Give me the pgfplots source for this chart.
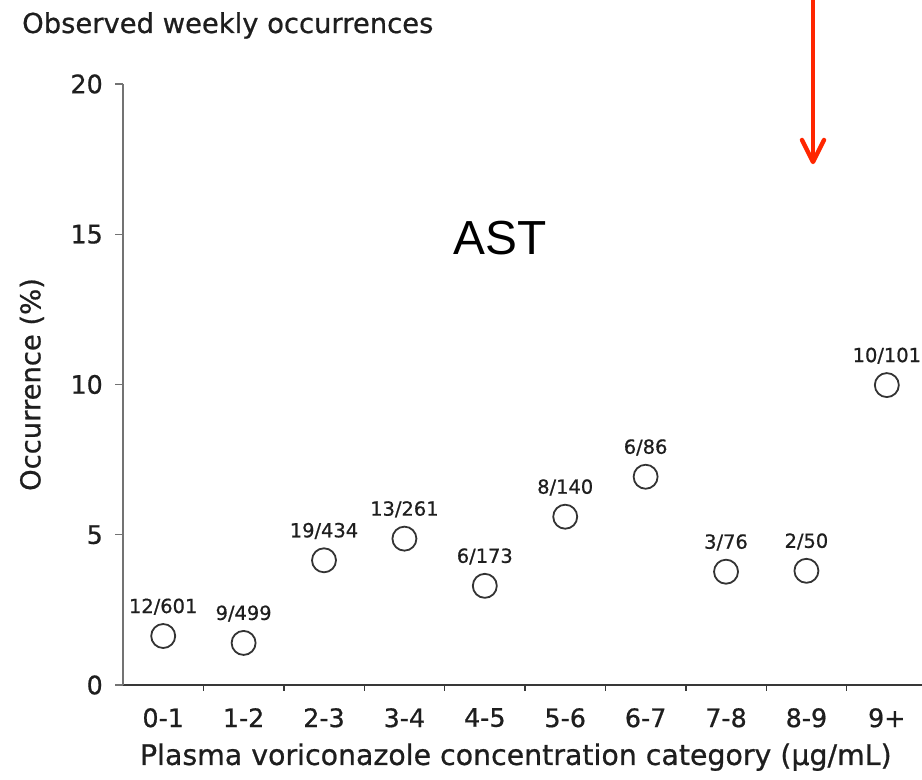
\documentclass[border=0pt]{standalone}
\usepackage{pgfplots}
\pgfplotsset{compat=1.18}
\usepackage{pgfplotstable}
\usepackage{fontspec}
\setmainfont[FakeBold=0.7]{DejaVu Sans}
\newfontfamily\arialfont{Liberation Sans}

\definecolor{ink}{HTML}{1E1E1E}
\definecolor{markgray}{HTML}{333333}
\definecolor{arrowred}{HTML}{FF2600}

% weekly AST occurrence (%) per plasma concentration category
\pgfplotstableread{
x  y     label
0  1.63  12/601
1  1.40  9/499
2  4.15  19/434
3  4.87  13/261
4  3.30  6/173
5  5.60  8/140
6  6.93  6/86
7  3.77  3/76
8  3.80  2/50
9  9.98  10/101
}\astdata

\begin{document}
\begin{tikzpicture}[x=1bp,y=1bp]
\useasboundingbox (0,0) rectangle (922,780);
\begin{axis}[
  at={(123bp,95bp)}, anchor=south west,
  scale only axis,
  width=800bp, height=601bp,
  xmin=-0.5, xmax=9.45,
  ymin=0, ymax=20,
  clip=false,
  axis x line=bottom, axis y line=left,
  x axis line style={-, draw=black!78, line width=1.6bp},
  y axis line style={-, draw=black!55, line width=1.2bp},
  tick align=outside,
  xtick={0,...,9},
  xticklabels={0-1,1-2,2-3,3-4,4-5,5-6,6-7,7-8,8-9,9+},
  major x tick style={draw=none},
  minor xtick={0.5,1.5,...,8.5},
  minor x tick style={draw=black!78, line width=1.4bp},
  minor tick length=6bp,
  ytick={0,5,10,15,20},
  y tick style={draw=black!55, line width=1.2bp},
  major tick length=8bp,
  /pgf/number format/assume math mode=true,
  tick label style={font=\fontsize{25.5}{25.5}\selectfont, text=ink},
  xticklabel style={inner sep=0pt, yshift=-15bp, anchor=north},
  yticklabel style={inner sep=0pt, xshift=-12bp, anchor=east},
  xlabel={Plasma voriconazole concentration category (\textmu g/mL)},
  ylabel={Occurrence (\%)},
  every axis x label/.style={at={(axis description cs:0.491,-0.12)}, anchor=center,
    font=\fontsize{28.5}{28.5}\selectfont, text=ink},
  every axis y label/.style={at={(axis description cs:-0.114,0.5)}, rotate=90, anchor=center,
    font=\fontsize{27.5}{27.5}\selectfont, text=ink},
  point meta=explicit symbolic,
  nodes near coords,
  every node near coord/.append style={anchor=base, yshift=23bp, inner sep=0pt,
    font=\fontsize{19.5}{19.5}\selectfont, text=ink},
]
\addplot[only marks, mark=o, mark size=12bp,
  mark options={draw=markgray, line width=1.8bp, fill=white}]
  table[x=x, y=y, meta=label] {\astdata};
\end{axis}

% panel heading and analyte tag
\node[anchor=base west, inner sep=0pt, text=ink, font=\fontsize{27.5}{27.5}\selectfont]
  at (22,747) {Observed weekly occurrences};
\node[inner sep=0pt, font=\arialfont\fontsize{48}{48}\selectfont] at (500,542) {AST};

% red pointer coming down from the top edge
\draw[arrowred, line width=4.4bp, line cap=round] (813,790) -- (813,620);
\draw[arrowred, line width=4.4bp, line cap=round, line join=round]
  (802,640) -- (813,618) -- (824,640);
\end{tikzpicture}
\end{document}
